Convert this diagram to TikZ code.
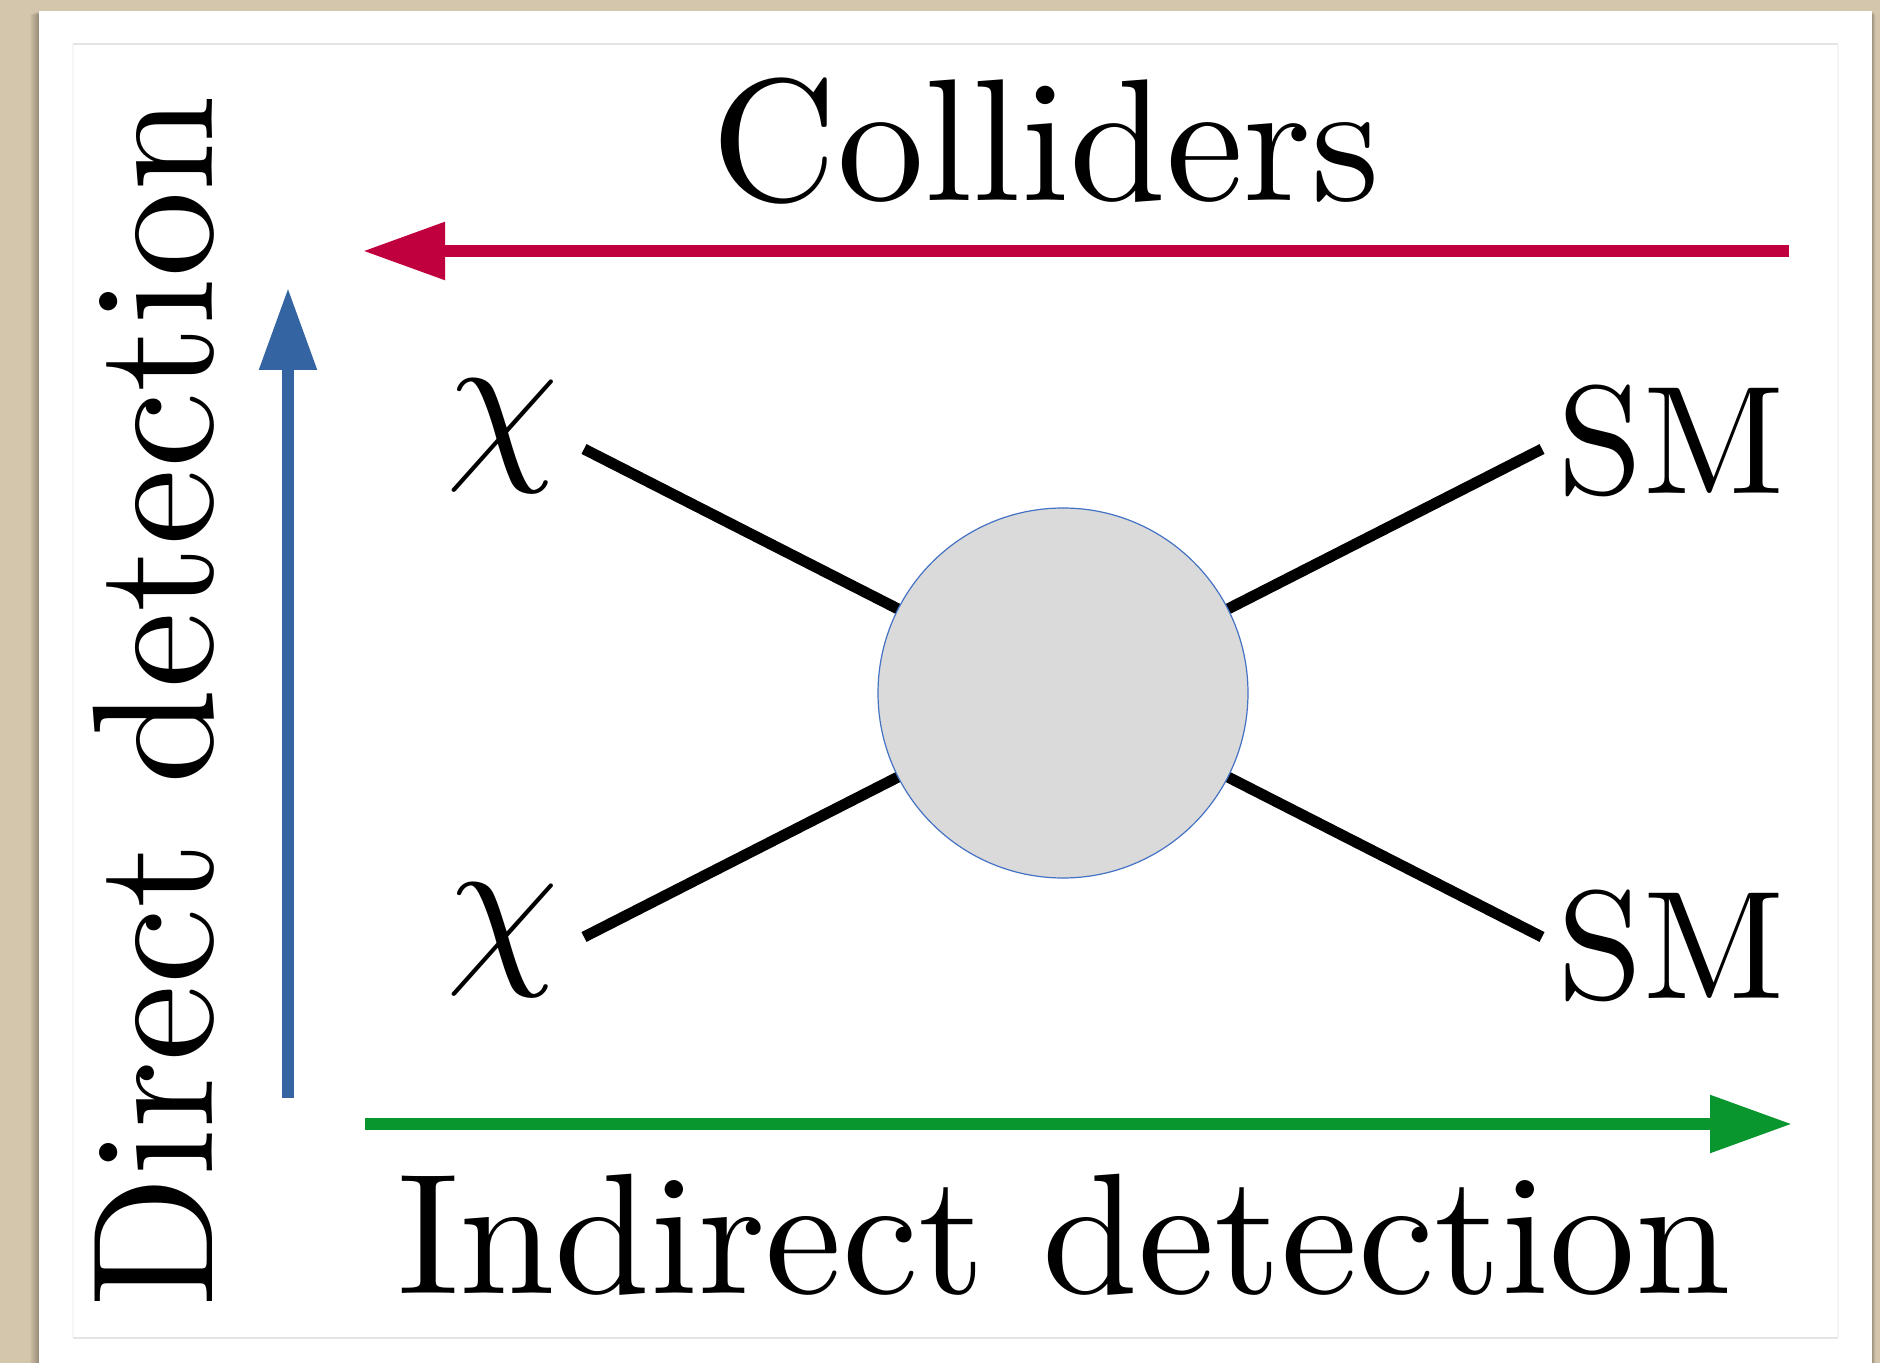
\documentclass[tikz,border=0pt]{standalone}
\usetikzlibrary{arrows.meta}
\definecolor{beige}{RGB}{212,198,172}
\definecolor{framegray}{RGB}{228,228,228}
\definecolor{faintgray}{RGB}{246,246,246}
\definecolor{colred}{RGB}{192,0,62}
\definecolor{colblue}{RGB}{52,101,162}
\definecolor{colgreen}{RGB}{10,150,46}
\definecolor{blobfill}{RGB}{218,218,218}
\definecolor{blobline}{RGB}{68,114,196}
\tikzset{
  bigarrow/.style={line width=6pt, -{Triangle[length=41pt,width=27.5pt]}},
  leg/.style={line width=5.5pt, black},
  lbl/.style={inner sep=0pt, font=\normalsize, anchor=base},
  blob/.style={circle, minimum size=185pt, inner sep=0pt, fill=blobfill, draw=blobline, line width=0.6pt}
}
\begin{document}
\begin{tikzpicture}[x=0.5pt,y=-0.5pt]
\useasboundingbox (0,0) rectangle (1880,1363);
% background and card
\fill[beige] (0,0) rectangle (1880,1363);
\foreach \i in {1,...,9} {
  \fill[black,opacity=0.03] (39-\i,11+0.4*\i) rectangle (1872+0.4*\i,1363);
}
\fill[white] (39,11) rectangle (1872,1363);
\draw[faintgray, line width=0.8pt] (73,44) -- (73,1338) (1838,44) -- (1838,1338);
\draw[framegray, line width=1pt] (73,44) -- (1838,44) (73,1338) -- (1838,1338);
% arrows
\coordinate (rs) at (1789,251);
\coordinate (re) at (363,251);
\coordinate (bs) at (288,1098);
\coordinate (be) at (288,288);
\coordinate (gs) at (365,1124);
\coordinate (ge) at (1792,1124);
\draw[bigarrow, colred] (rs) -- (re);
\draw[bigarrow, colblue] (bs) -- (be);
\draw[bigarrow, colgreen] (gs) -- (ge);
% labels
\node[lbl] (coll) at (1046,201) {\scalebox{8.7}{Colliders}};
\node[lbl] (indir) at (1064,1293) {\scalebox{8.6}{Indirect detection}};
\node[lbl, rotate=90] (dir) at (212,702) {\scalebox{8.6}{Direct detection}};
% Feynman diagram
\coordinate (tl) at (584,449);
\coordinate (bl) at (584,937);
\coordinate (tr) at (1542,449);
\coordinate (br) at (1542,937);
\coordinate (c) at (1063,693);
\draw[leg] (tl) -- (c) (bl) -- (c) (tr) -- (c) (br) -- (c);
\node[blob] (vertex) at (c) {};
\node[lbl] (chi1) at (503,458) {\scalebox{9}{$\chi$}};
\node[lbl] (chi2) at (503,961) {\scalebox{9}{$\chi$}};
\node[lbl] (sm1) at (1671,494) {\scalebox{7.7}{SM}};
\node[lbl] (sm2) at (1671,998) {\scalebox{7.7}{SM}};
\end{tikzpicture}
\end{document}
